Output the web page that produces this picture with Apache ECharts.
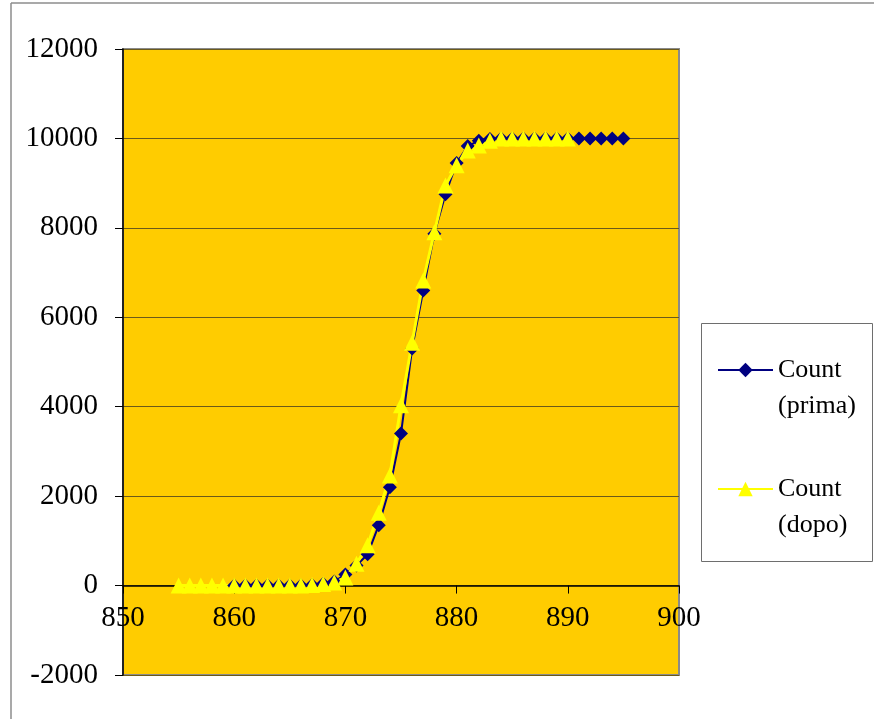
<!DOCTYPE html>
<html>
<head>
<meta charset="utf-8">
<script src="https://cdn.jsdelivr.net/npm/echarts@6/dist/echarts.min.js"></script>
<style>
html,body{margin:0;padding:0;background:#fff;}
#chart{width:874px;height:719px;}
</style>
</head>
<body>
<div id="chart"></div>
<script>
// ---- data ----
const primaX = [860,861,862,863,864,865,866,867,868,869,870,871,872,873,874,875,876,877,878,879,880,881,882,883,884,885,886,887,888,889,890,891,892,893,894,895];
const primaY = [0,0,0,0,0,0,0,10,40,90,250,450,700,1350,2200,3400,5300,6600,7870,8750,9450,9830,9950,9990,10000,10000,10000,10000,10000,10000,10000,10000,10000,10000,10000,10000];
const dopoX = [855,856,857,858,859,860,861,862,863,864,865,866,867,868,869,870,871,872,873,874,875,876,877,878,879,880,881,882,883,884,885,886,887,888,889,890];
const dopoY = [0,0,0,0,0,0,0,0,0,0,0,0,15,35,70,180,490,900,1630,2460,4030,5430,6820,7900,8950,9400,9730,9840,9950,10000,10000,10000,10000,10000,10000,10000];
const seriesNames = ['Count\n(prima)', 'Count\n(dopo)'];
const yTicks = {min: -2000, max: 12000, step: 2000};
const xTicks = {min: 850, max: 900, step: 10};

const FONT = 'Liberation Serif';
const GRID = {left: 123, right: 195, top: 49, bottom: 44};
const plotH = 719 - GRID.top - GRID.bottom;
// place the x axis on y = 0 (axis crosses at zero)
const xAxisOffset = -plotH * (0 - yTicks.min) / (yTicks.max - yTicks.min);

const chart = echarts.init(document.getElementById('chart'), null, {renderer: 'canvas'});
chart.setOption({
  backgroundColor: '#ffffff',
  animation: false,
  graphic: [
    {type: 'line', shape: {x1: 11, y1: 3, x2: 11, y2: 719}, style: {stroke: '#8c8c8c', lineWidth: 1.5}, z: -1},
    {type: 'line', shape: {x1: 11, y1: 3, x2: 874, y2: 3}, style: {stroke: '#8c8c8c', lineWidth: 1.5}, z: -1},
    {type: 'rect', shape: {x: 701.5, y: 323.5, width: 171, height: 238}, style: {fill: '#ffffff', stroke: '#6e6e6e', lineWidth: 1}, z: -1}
  ],
  grid: Object.assign({
    show: true, backgroundColor: '#FFCC00', borderColor: '#8a8a8a', borderWidth: 2,
    containLabel: false
  }, GRID),
  legend: {
    orient: 'vertical',
    left: 712, top: 311,
    itemWidth: 55, itemHeight: 18,
    itemGap: 11,
    data: seriesNames,
    formatter: name => '\n' + name,
    textStyle: {fontFamily: FONT, fontSize: 26, color: '#000', lineHeight: 36}
  },
  xAxis: {
    type: 'value', min: xTicks.min, max: xTicks.max, interval: xTicks.step,
    offset: xAxisOffset,
    axisLine: {show: true, onZero: false, lineStyle: {color: '#000', width: 1.5}},
    axisTick: {show: true, length: 8, lineStyle: {color: '#000'}},
    axisLabel: {fontFamily: FONT, fontSize: 29, color: '#000', margin: 18},
    splitLine: {show: false}
  },
  yAxis: {
    type: 'value', min: yTicks.min, max: yTicks.max, interval: yTicks.step,
    axisLine: {show: true, onZero: false, lineStyle: {color: '#000', width: 1.5}},
    axisTick: {show: true, length: 8, lineStyle: {color: '#000'}},
    axisLabel: {fontFamily: FONT, fontSize: 29, color: '#000', margin: 25, formatter: v => String(v)},
    splitLine: {show: true, lineStyle: {color: '#6b5a1a', width: 1}}
  },
  series: [
    {
      name: seriesNames[0], type: 'line',
      data: primaX.map((x, i) => [x, primaY[i]]),
      symbol: 'diamond', symbolSize: 14,
      itemStyle: {color: '#000080'},
      lineStyle: {color: '#000080', width: 2}
    },
    {
      name: seriesNames[1], type: 'line',
      data: dopoX.map((x, i) => [x, dopoY[i]]),
      symbol: 'triangle', symbolSize: 16,
      itemStyle: {color: '#FFFF00'},
      lineStyle: {color: '#FFFF00', width: 3}
    }
  ]
});
</script>
</body>
</html>
